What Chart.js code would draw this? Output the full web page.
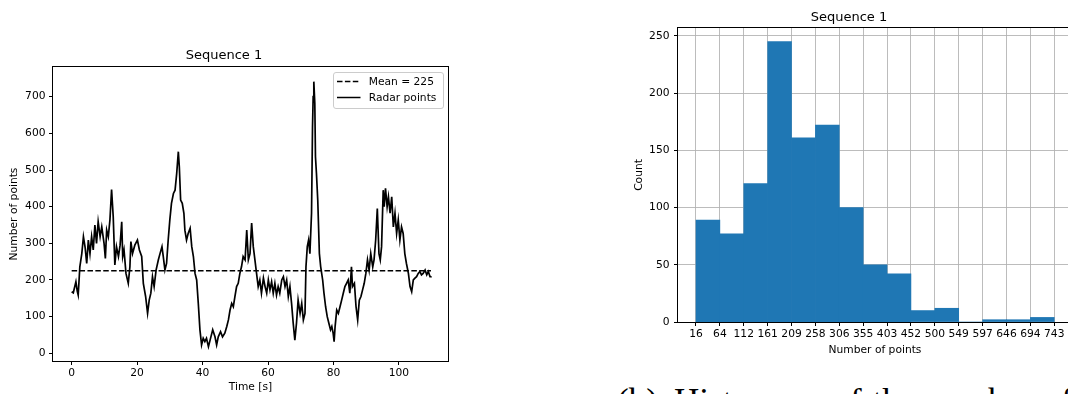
<!DOCTYPE html>
<html>
<head>
<meta charset="utf-8">
<script src="https://cdn.jsdelivr.net/npm/chart.js@4.4.1/dist/chart.umd.min.js"></script>
<style>
  html, body { margin:0; padding:0; width:1068px; height:394px; overflow:hidden; background:#fff; }
  canvas { position:absolute; }
  #lineCanvas { left:0; top:0; }
  #histCanvas { left:626px; top:0; }
  .cap { position:absolute; top:382px; font-family:'Liberation Serif', serif; font-size:35px; color:#000; white-space:nowrap; word-spacing:2px; }
</style>
</head>
<body>
<canvas id="lineCanvas" width="470" height="394"></canvas>
<canvas id="histCanvas" width="460" height="358"></canvas>
<div class="cap" style="left:617px">(b)</div>
<div class="cap" style="left:674px">Histogram of the number of</div>
<script>
// ---------- DATA ----------
const chartTitle = 'Sequence 1';
const meanValue = 225;
const timeSec = [0.0,0.5,1.3,1.7,2.0,2.5,3.1,3.6,4.1,4.6,5.1,5.6,6.1,6.6,7.1,7.6,8.1,8.7,9.2,9.9,10.3,10.7,11.2,11.7,12.2,12.7,13.2,13.7,14.3,14.8,15.3,15.6,16.0,16.6,17.3,17.8,18.1,18.6,19.3,20.1,20.7,21.4,21.9,22.6,23.2,23.7,24.2,24.7,25.2,25.8,26.5,27.0,27.6,28.0,28.5,29.0,29.5,30.0,30.5,31.1,31.6,32.1,32.6,32.9,33.3,33.8,34.3,34.6,35.1,35.6,36.2,36.7,37.2,37.7,38.2,38.7,39.2,39.7,40.2,40.7,41.2,41.8,42.3,43.1,43.8,44.3,44.8,45.5,46.1,46.8,47.4,47.9,48.4,48.9,49.4,49.9,50.4,50.9,51.4,51.9,52.4,53.0,53.5,54.0,54.5,55.0,55.5,56.0,56.5,57.0,57.5,58.0,58.6,59.1,59.6,60.1,60.6,61.1,61.6,62.1,62.6,63.1,63.6,64.2,64.7,65.2,65.7,66.2,66.7,67.2,67.7,68.2,68.7,69.2,69.8,70.3,70.8,71.3,71.6,72.0,72.4,72.8,73.3,73.6,73.8,74.0,74.3,74.5,74.8,75.2,75.7,76.1,76.7,77.1,77.6,78.1,78.6,79.1,79.5,79.9,80.2,80.5,81.0,81.5,82.0,82.5,83.0,83.5,84.0,84.5,85.0,85.5,85.8,86.4,86.9,87.4,87.9,88.4,88.9,89.4,89.9,90.4,90.9,91.4,92.0,92.4,92.9,93.4,93.9,94.3,94.7,95.2,95.5,95.9,96.4,96.8,97.3,97.8,98.3,98.8,99.3,99.8,100.3,100.8,101.3,101.8,102.3,102.9,103.4,103.9,104.4,104.9,105.4,105.9,106.4,106.9,107.4,108.0,108.5,109.0,109.5,109.8];
const radarPoints = [168,165,195,170,159,236,272,318,290,245,309,272,318,282,350,300,359,318,345,300,259,336,318,364,447,373,241,291,264,295,359,264,282,218,191,236,305,272,295,309,282,264,191,155,109,145,164,209,182,227,255,272,291,264,227,245,309,364,409,436,445,491,550,509,418,409,382,336,309,327,341,291,264,218,200,136,64,23,41,32,41,18,36,64,45,23,45,59,45,55,73,91,118,136,127,155,182,191,218,236,264,255,336,255,272,355,291,255,218,182,200,164,205,182,164,200,173,195,164,191,159,182,164,200,209,182,200,155,182,136,82,36,82,145,109,136,91,109,236,291,309,272,382,618,700,741,682,536,491,418,272,236,200,164,127,100,82,64,73,55,32,73,118,109,127,145,164,182,191,200,164,236,182,191,127,91,145,155,173,191,218,255,227,272,236,255,309,395,272,255,291,445,400,450,400,427,382,427,345,382,327,364,309,345,327,272,245,218,182,168,200,205,209,218,223,214,218,227,214,223,209,210];
const lineXTicks = [0, 20, 40, 60, 80, 100];
const lineYTicks = [0, 100, 200, 300, 400, 500, 600, 700];

const histEdges = [16, 64.5, 112.9, 161.4, 209.9, 258.3, 306.8, 355.3, 403.7, 452.2, 500.7, 549.1, 597.6, 646.1, 694.5, 743];
const histLabels = ['16','64','112','161','209','258','306','355','403','452','500','549','597','646','694','743'];
const histCounts = [89, 77, 121, 245, 161, 172, 100, 50, 42, 10, 12, 0, 2, 2, 4];
const histYTicks = [0, 50, 100, 150, 200, 250];

// ---------- COMMON ----------
Chart.defaults.font.family = "'DejaVu Sans', sans-serif";
Chart.defaults.font.size = 10.7;
Chart.defaults.color = '#000';
Chart.defaults.animation = false;

const framePlugin = {
  id: 'frame',
  afterDraw(chart) {
    const { ctx, chartArea: a } = chart;
    ctx.save();
    ctx.strokeStyle = '#000';
    ctx.lineWidth = 1;
    ctx.strokeRect(Math.round(a.left) - 0.5, Math.round(a.top) - 0.5,
                   Math.round(a.right) - Math.round(a.left) + 1, Math.round(a.bottom) - Math.round(a.top) + 1);
    ctx.restore();
  }
};

const boxLegend = {
  id: 'boxLegend',
  afterDraw(chart) {
    const { ctx, chartArea: a } = chart;
    const w = 110, h = 36;
    const x = Math.round(a.right - 5 - w), y = Math.round(a.top + 5);
    ctx.save();
    ctx.beginPath();
    ctx.roundRect(x + 0.5, y + 0.5, w, h, 2.5);
    ctx.fillStyle = 'rgba(255,255,255,0.8)';
    ctx.fill();
    ctx.strokeStyle = '#cccccc';
    ctx.lineWidth = 1;
    ctx.stroke();
    chart.data.datasets.forEach((ds, i) => {
      const ly = y + 9.5 + i * 16;
      ctx.beginPath();
      ctx.setLineDash(ds.borderDash || []);
      ctx.strokeStyle = ds.borderColor;
      ctx.lineWidth = 1.5;
      ctx.moveTo(x + 4, ly);
      ctx.lineTo(x + 27.5, ly);
      ctx.stroke();
      ctx.setLineDash([]);
      ctx.fillStyle = '#000';
      ctx.font = "10.7px 'DejaVu Sans'";
      ctx.textBaseline = 'middle';
      ctx.textAlign = 'left';
      ctx.fillText(ds.label, x + 35.7, ly + 0.5);
    });
    ctx.restore();
  }
};

// ---------- LINE CHART ----------
const lineData = timeSec.map((t, i) => ({ x: t, y: radarPoints[i] }));
const meanData = [{ x: timeSec[0], y: meanValue }, { x: timeSec[timeSec.length - 1], y: meanValue }];

new Chart(document.getElementById('lineCanvas'), {
  type: 'line',
  data: {
    datasets: [
      { label: 'Mean = ' + meanValue, data: meanData, borderColor: '#000', borderWidth: 1.5,
        borderDash: [5.5, 2.4], pointRadius: 0, fill: false, tension: 0 },
      { label: 'Radar points', data: lineData, borderColor: '#000', borderWidth: 1.7,
        pointRadius: 0, fill: false, tension: 0 }
    ]
  },
  options: {
    responsive: false,
    devicePixelRatio: 1,
    layout: { padding: { top: 48, left: 0, right: 22, bottom: 0 } },
    plugins: {
      legend: { display: false },
      tooltip: { enabled: false },
      title: { display: true, text: chartTitle, font: { size: 13, weight: 'normal' }, color: '#000',
               padding: { top: 0, bottom: 3.4 } }
    },
    scales: {
      x: {
        type: 'linear', min: -5.7, max: 115.0,
        afterFit: (s) => { s.height = 33; },
        afterBuildTicks: (s) => { s.ticks = lineXTicks.map(v => ({ value: v })); },
        ticks: { padding: 2, maxRotation: 0, autoSkip: false, callback: (v) => String(v) },
        grid: { display: true, drawOnChartArea: false, drawTicks: true, tickLength: 4, tickColor: '#000', tickWidth: 1 },
        border: { display: false },
        title: { display: true, text: 'Time [s]', padding: { top: 0, bottom: 0 } }
      },
      y: {
        type: 'linear', min: -21, max: 781,
        afterFit: (s) => { s.width = 53; },
        afterBuildTicks: (s) => { s.ticks = lineYTicks.map(v => ({ value: v })); },
        ticks: { padding: 3.5, autoSkip: false, callback: (v) => String(v) },
        grid: { display: true, drawOnChartArea: false, drawTicks: true, tickLength: 4, tickColor: '#000', tickWidth: 1 },
        border: { display: false },
        title: { display: true, text: 'Number of points', padding: { top: 7.9, bottom: 0 } }
      }
    }
  },
  plugins: [framePlugin, boxLegend]
});

// ---------- HISTOGRAM ----------
const histData = histCounts.map((c, i) => ({ x: (histEdges[i] + histEdges[i + 1]) / 2, y: c }));

new Chart(document.getElementById('histCanvas'), {
  type: 'bar',
  data: {
    datasets: [{ label: 'Count', data: histData, backgroundColor: '#1f77b4', borderWidth: 0,
                 barPercentage: 1.0, categoryPercentage: 1.0 }]
  },
  options: {
    responsive: false,
    devicePixelRatio: 1,
    layout: { padding: { top: 9.5, left: 0, right: 14, bottom: 0 } },
    plugins: {
      legend: { display: false },
      tooltip: { enabled: false },
      title: { display: true, text: chartTitle, font: { size: 13, weight: 'normal' }, color: '#000',
               padding: { top: 0, bottom: 2.9 } }
    },
    scales: {
      x: {
        type: 'linear', min: -20.5, max: 779, offset: false, z: 1,
        afterFit: (s) => { s.height = 36; },
        afterBuildTicks: (s) => { s.ticks = histEdges.map(v => ({ value: v })); },
        ticks: { padding: 2, maxRotation: 0, minRotation: 0, autoSkip: false,
                 callback: (v, i) => histLabels[i] },
        grid: { display: true, offset: false, drawOnChartArea: true, color: '#b0b0b0', lineWidth: 0.85,
                drawTicks: true, tickLength: 4, tickColor: '#000', tickWidth: 1 },
        border: { display: false },
        title: { display: true, text: 'Number of points', padding: { top: 0, bottom: 1.6 } }
      },
      y: {
        type: 'linear', min: 0, max: 256.9, z: 1,
        afterFit: (s) => { s.width = 52; },
        afterBuildTicks: (s) => { s.ticks = histYTicks.map(v => ({ value: v })); },
        ticks: { padding: 4.5, autoSkip: false, callback: (v) => String(v) },
        grid: { display: true, drawOnChartArea: true, color: '#b0b0b0', lineWidth: 0.85,
                drawTicks: true, tickLength: 4, tickColor: '#000', tickWidth: 1 },
        border: { display: false },
        title: { display: true, text: 'Count', padding: { top: 6.6, bottom: 0 } }
      }
    }
  },
  plugins: [framePlugin]
});
</script>
</body>
</html>
